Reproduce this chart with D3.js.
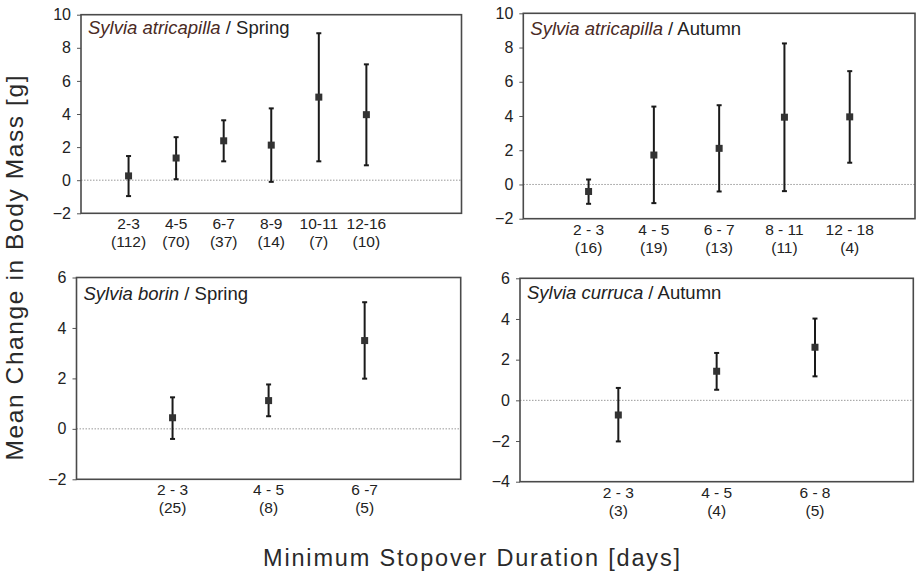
<!DOCTYPE html>
<html>
<head>
<meta charset="utf-8">
<script src="https://cdn.jsdelivr.net/npm/d3@7"></script>
<style>
  body { margin: 0; background: #fff; }
  svg { display: block; font-family: "Liberation Sans", Arial, sans-serif; }
  .frame { fill: none; stroke: #4a4a4a; stroke-width: 1.6; }
  .zero { stroke: #999; stroke-width: 1; stroke-dasharray: 1.5 1.5; }
  .bar { stroke: #1a1a1a; stroke-width: 2; }
  .pt { fill: #333; }
  .tick-lbl { font-size: 16px; fill: #222; }
  .cat { font-size: 15.5px; fill: #222; }
</style>
</head>
<body>
<svg width="918" height="575"></svg>
<script>
// --- data ---
// Sylvia atricapilla / Spring
const p1Cats = ["2-3", "4-5", "6-7", "8-9", "10-11", "12-16"];
const p1N    = ["(112)", "(70)", "(37)", "(14)", "(7)", "(10)"];
const p1Mean = [0.26, 1.34, 2.38, 2.12, 5.02, 3.96];
const p1Low  = [-0.96, 0.06, 1.14, -0.10, 1.14, 0.90];
const p1High = [1.46, 2.60, 3.62, 4.34, 8.88, 7.00];

// Sylvia atricapilla / Autumn
const p2Cats = ["2 - 3", "4 - 5", "6 - 7", "8 - 11", "12 - 18"];
const p2N    = ["(16)", "(19)", "(13)", "(11)", "(4)"];
const p2Mean = [-0.41, 1.72, 2.11, 3.93, 3.95];
const p2Low  = [-1.13, -1.09, -0.41, -0.39, 1.27];
const p2High = [0.29, 4.55, 4.63, 8.24, 6.62];

// Sylvia borin / Spring
const p3Cats = ["2 - 3", "4 - 5", "6 -7"];
const p3N    = ["(25)", "(8)", "(5)"];
const p3Mean = [0.44, 1.12, 3.50];
const p3Low  = [-0.40, 0.50, 1.99];
const p3High = [1.25, 1.76, 5.02];

// Sylvia curruca / Autumn
const p4Cats = ["2 - 3", "4 - 5", "6 - 8"];
const p4N    = ["(3)", "(4)", "(5)"];
const p4Mean = [-0.72, 1.43, 2.61];
const p4Low  = [-2.02, 0.52, 1.18];
const p4High = [0.61, 2.33, 4.02];

const yTitle = "Mean Change in Body Mass [g]";
const xTitle = "Minimum Stopover Duration [days]";

// --- panel layout ---
const panels = [
  { species: "Sylvia atricapilla", season: " / Spring", spColor: "#4a2a24",
    cats: p1Cats, n: p1N, mean: p1Mean, low: p1Low, high: p1High,
    yDom: [-2, 10], xDom: [0, 8], box: [81, 461.5, 14.7, 213.3], titleDy: 19 },
  { species: "Sylvia atricapilla", season: " / Autumn", spColor: "#4a2a24",
    cats: p2Cats, n: p2N, mean: p2Mean, low: p2Low, high: p2High,
    yDom: [-2, 10], xDom: [0, 6], box: [523.3, 915, 13.3, 218.7], titleDy: 22 },
  { species: "Sylvia borin", season: " / Spring", spColor: "#222",
    cats: p3Cats, n: p3N, mean: p3Mean, low: p3Low, high: p3High,
    yDom: [-2, 6], xDom: [0, 4], box: [76.5, 460.7, 277.5, 479.3], titleDy: 22 },
  { species: "Sylvia curruca", season: " / Autumn", spColor: "#222",
    cats: p4Cats, n: p4N, mean: p4Mean, low: p4Low, high: p4High,
    yDom: [-4, 6], xDom: [0, 4], box: [520, 913.3, 278.3, 481.7], titleDy: 21 }
];

const svg = d3.select("svg");

panels.forEach(p => {
  const [x0, x1, y0, y1] = p.box;
  const x = d3.scaleLinear().domain(p.xDom).range([x0, x1]);
  const y = d3.scaleLinear().domain(p.yDom).range([y1, y0]);
  const g = svg.append("g");

  // y axis: ticks + labels
  const yAxis = d3.axisLeft(y).tickValues(d3.range(p.yDom[0], p.yDom[1] + 1, 2))
    .tickSize(4).tickPadding(6).tickFormat(d3.format("d"));
  const ya = g.append("g").attr("transform", `translate(${x0},0)`).call(yAxis);
  ya.select(".domain").remove();
  ya.selectAll("line").attr("stroke", "#555");
  ya.selectAll("text").attr("class", "tick-lbl").attr("font-family", null).attr("font-size", null);

  // zero reference line
  g.append("line").attr("class", "zero")
    .attr("x1", x0).attr("x2", x1).attr("y1", y(0)).attr("y2", y(0));

  // frame
  g.append("rect").attr("class", "frame")
    .attr("x", x0).attr("y", y0).attr("width", x1 - x0).attr("height", y1 - y0);

  const rows = p.cats.map((c, i) => ({ i, cat: c, n: p.n[i], mean: p.mean[i], low: p.low[i], high: p.high[i] }));

  // error bars
  g.selectAll(".bar.v").data(rows).join("line").attr("class", "bar v")
    .attr("x1", d => x(d.i + 1)).attr("x2", d => x(d.i + 1))
    .attr("y1", d => y(d.low)).attr("y2", d => y(d.high));
  ["low", "high"].forEach(k => {
    g.selectAll(".bar.c" + k).data(rows).join("line").attr("class", "bar c" + k)
      .attr("x1", d => x(d.i + 1) - 2.5).attr("x2", d => x(d.i + 1) + 2.5)
      .attr("y1", d => y(d[k])).attr("y2", d => y(d[k]));
  });

  // mean markers
  g.selectAll(".pt").data(rows).join("rect").attr("class", "pt")
    .attr("x", d => x(d.i + 1) - 3.5).attr("y", d => y(d.mean) - 3.5)
    .attr("width", 7).attr("height", 7);

  // category labels
  g.selectAll(".cat1").data(rows).join("text").attr("class", "cat cat1")
    .attr("text-anchor", "middle").attr("x", d => x(d.i + 1)).attr("y", y1 + 16)
    .text(d => d.cat);
  g.selectAll(".cat2").data(rows).join("text").attr("class", "cat cat2")
    .attr("text-anchor", "middle").attr("x", d => x(d.i + 1)).attr("y", y1 + 34)
    .text(d => d.n);

  // panel title
  const t = g.append("text").attr("x", x0 + 7).attr("y", y0 + p.titleDy).attr("font-size", 18.5);
  t.append("tspan").attr("font-style", "italic").attr("fill", p.spColor).text(p.species);
  t.append("tspan").attr("fill", "#222").text(p.season);
});

// axis titles
svg.append("text")
  .attr("transform", "translate(23,268) rotate(-90)")
  .attr("text-anchor", "middle").attr("font-size", 24.5).attr("fill", "#2a2a2a")
  .attr("textLength", 385).attr("lengthAdjust", "spacing")
  .text(yTitle);

svg.append("text")
  .attr("x", 471.5).attr("y", 566)
  .attr("text-anchor", "middle").attr("font-size", 23.5).attr("fill", "#2a2a2a")
  .attr("textLength", 417).attr("lengthAdjust", "spacing")
  .text(xTitle);
</script>
</body>
</html>
